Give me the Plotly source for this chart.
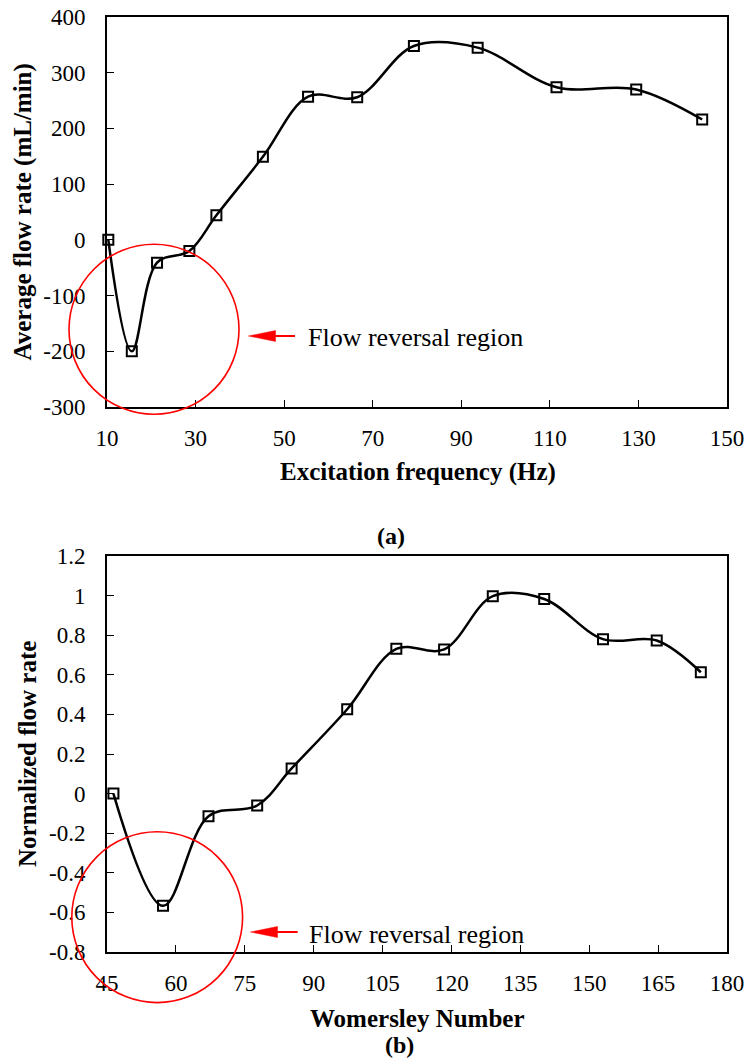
import plotly.graph_objects as go

# ---------------- data ----------------
freq_hz = [10.3, 15.6, 21.3, 28.6, 34.7, 45.2, 55.4, 66.5, 79.3, 93.7, 111.5, 129.5, 144.4]
avg_flow = [0, -200, -41, -20, 44, 149, 257, 256, 348, 345, 274, 270, 216]

womersley = [46.4, 57.2, 67.1, 77.7, 85.2, 97.3, 108.0, 118.4, 129.0, 140.2, 153.0, 164.7, 174.3]
norm_flow = [0.0, -0.567, -0.114, -0.06, 0.127, 0.426, 0.731, 0.728, 0.997, 0.983, 0.78, 0.773, 0.613]

x1_ticks = [10, 30, 50, 70, 90, 110, 130, 150]
y1_ticks = [-300, -200, -100, 0, 100, 200, 300, 400]
y1_text = ["-300", "-200", "-100", "0", "100", "200", "300", "400"]
x2_ticks = [45, 60, 75, 90, 105, 120, 135, 150, 165, 180]
y2_ticks = [-0.8, -0.6, -0.4, -0.2, 0, 0.2, 0.4, 0.6, 0.8, 1.0, 1.2]
y2_text = ["-0.8", "-0.6", "-0.4", "-0.2", "0", "0.2", "0.4", "0.6", "0.8", "1", "1.2"]

# ---------------- layout geometry ----------------
W, H = 748, 1059
ML, MR, MT, MB = 107, 21, 17, 107
PW, PH = W - ML - MR, H - MT - MB

def px(x):
    return (x - ML) / PW

def py(y):
    return (H - MB - y) / PH

FONT = "Times New Roman, Liberation Serif, serif"
RED = "#FF0000"

fig = go.Figure()

line_style = dict(color="black", width=2.5, shape="spline", smoothing=1)
marker_style = dict(symbol="square-open", size=10, color="black", line=dict(width=2, color="black"))

fig.add_trace(go.Scatter(x=freq_hz, y=avg_flow, mode="lines+markers", line=line_style,
                         marker=marker_style, xaxis="x", yaxis="y", cliponaxis=False,
                         showlegend=False))
fig.add_trace(go.Scatter(x=womersley, y=norm_flow, mode="lines+markers", line=line_style,
                         marker=marker_style, xaxis="x2", yaxis="y2", cliponaxis=False,
                         showlegend=False))

axis_common = dict(showgrid=False, zeroline=False, showline=True, linecolor="black",
                   linewidth=2, mirror=True, ticks="inside", ticklen=7, tickwidth=1,
                   tickcolor="black", automargin=False,
                   tickfont=dict(family=FONT, size=23, color="black"))

top_bottom = (H - MB - 407) / PH
bot_top = (H - MB - 556) / PH

fig.update_layout(
    template="none",
    width=W, height=H,
    margin=dict(l=ML, r=MR, t=MT, b=MB, autoexpand=False),
    paper_bgcolor="white", plot_bgcolor="white",
    xaxis=dict(domain=[0, 1], anchor="y", range=[10, 150], tickvals=x1_ticks,
               ticklabelstandoff=9, **axis_common),
    yaxis=dict(domain=[top_bottom, 1], anchor="x", range=[-300, 400], tickvals=y1_ticks,
               ticktext=y1_text, ticklabelstandoff=15, **axis_common),
    xaxis2=dict(domain=[0, 1], anchor="y2", range=[45, 180], tickvals=x2_ticks,
                ticklabelstandoff=9, **axis_common),
    yaxis2=dict(domain=[0, bot_top], anchor="x2", range=[-0.8, 1.2], tickvals=y2_ticks,
                ticktext=y2_text, ticklabelstandoff=15, **axis_common),
)

shapes = []
annotations = []

def add_marker_group(cx, cy, r, arrow_tip, arrow_tail, arrow_y, text_x):
    shapes.append(dict(type="circle", xref="paper", yref="paper",
                       x0=px(cx - r), x1=px(cx + r), y0=py(cy + r), y1=py(cy - r),
                       line=dict(color=RED, width=1.6), layer="above"))
    head_base = arrow_tip + 27
    shapes.append(dict(type="line", xref="paper", yref="paper",
                       x0=px(head_base - 1), x1=px(arrow_tail), y0=py(arrow_y), y1=py(arrow_y),
                       line=dict(color=RED, width=2)))
    path = "M {},{} L {},{} L {},{} Z".format(
        px(arrow_tip), py(arrow_y), px(head_base), py(arrow_y - 5.5),
        px(head_base), py(arrow_y + 5.5))
    shapes.append(dict(type="path", xref="paper", yref="paper", path=path,
                       fillcolor=RED, line=dict(color=RED, width=0.5)))
    annotations.append(dict(text="Flow reversal region", xref="paper", yref="paper",
                            x=px(text_x), y=py(arrow_y + 2), xanchor="left", yanchor="middle",
                            showarrow=False, font=dict(family=FONT, size=26, color="black")))

add_marker_group(154, 329.3, 85, 248.5, 295, 336, 305.5)
add_marker_group(157.2, 917.2, 85.4, 250.5, 297.7, 932, 306.5)

def title(text, x, y, angle=0, size=25):
    annotations.append(dict(text="<b>" + text + "</b>", xref="paper", yref="paper",
                            x=px(x), y=py(y), xanchor="center", yanchor="middle",
                            textangle=angle, showarrow=False, borderpad=0,
                            font=dict(family=FONT, size=size, color="black")))

title("Excitation frequency (Hz)", 417.5, 471.5)
title("Average flow rate (mL/min)", 22.5, 212, angle=-90)
title("(a)", 391, 535.5, size=24)
title("Womersley Number", 417, 1018)
title("Normalized flow rate", 27, 754, angle=-90)
title("(b)", 399, 1045, size=24)

fig.update_layout(shapes=shapes, annotations=annotations)

fig.write_html("out.html")
